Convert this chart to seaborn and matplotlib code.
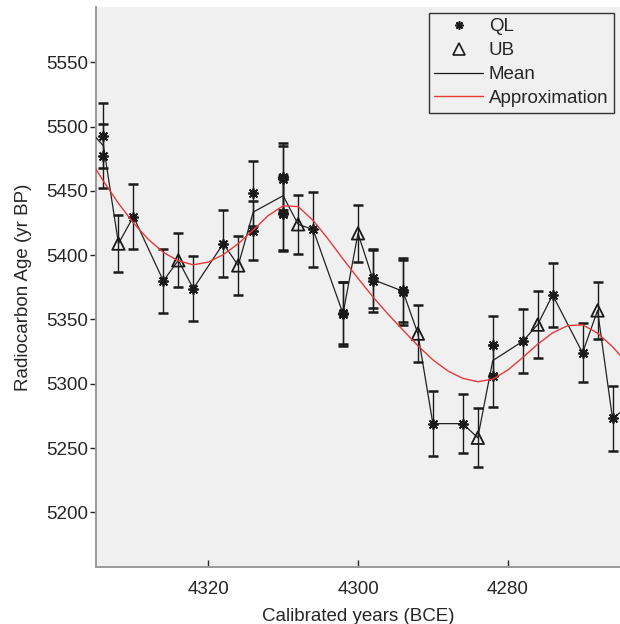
import matplotlib
matplotlib.use("Agg")
import matplotlib.pyplot as plt
from matplotlib.lines import Line2D
import seaborn as sns
import pandas as pd

# QL dates (asterisks); first and last entries sit just outside the view
ql_years = [4336, 4334, 4334, 4330, 4326, 4322, 4318, 4314, 4314, 4310, 4310, 4310, 4310,
            4306, 4302, 4302, 4298, 4298, 4294, 4294, 4290, 4286, 4282, 4282, 4278, 4274,
            4270, 4266, 4264]
ql_ages = [5498, 5493, 5477, 5430, 5380, 5374, 5409, 5448, 5419, 5461, 5459, 5433, 5432,
           5420, 5355, 5354, 5382, 5380, 5373, 5371, 5269, 5269, 5330, 5306, 5333, 5369,
           5324, 5273, 5282]
ql_errs = [25, 25, 25, 25, 25, 25, 26, 25, 23, 26, 26, 29, 29,
           29, 24, 25, 23, 24, 25, 25, 25, 23, 23, 24, 25, 25,
           23, 25, 25]

# UB dates (triangles)
ub_years = [4332, 4324, 4316, 4308, 4300, 4292, 4284, 4276, 4268]
ub_ages = [5409, 5396, 5392, 5424, 5417, 5339, 5258, 5346, 5357]
ub_errs = [22, 21, 23, 23, 22, 22, 23, 26, 22]

# red approximation curve, read off every 2 years
approx_years = [4336, 4334, 4332, 4330, 4328, 4326, 4324, 4322, 4320, 4318, 4316, 4314,
                4312, 4310, 4308, 4306, 4304, 4302, 4300, 4298, 4296, 4294, 4292, 4290,
                4288, 4286, 4284, 4282, 4280, 4278, 4276, 4274, 4272, 4270, 4268, 4266, 4264]
approx_ages = [5476, 5457.5, 5440.3, 5425.0, 5412.2, 5402.2, 5395.6, 5392.5, 5394.6,
               5400.4, 5408.9, 5419.6, 5430.8, 5438.4, 5437.8, 5427.0, 5412.6, 5397.0,
               5382.0, 5367.5, 5354.2, 5341.8, 5329.6, 5318.6, 5310.0, 5304.2, 5301.6,
               5303.6, 5310.6, 5320.4, 5330.8, 5339.6, 5345.2, 5345.8, 5339.4, 5328.8,
               5315.8]

ql = pd.DataFrame({"year": ql_years, "age": ql_ages, "err": ql_errs})
ub = pd.DataFrame({"year": ub_years, "age": ub_ages, "err": ub_errs})
both = pd.concat([ql, ub], ignore_index=True)
approx = pd.DataFrame({"year": approx_years, "age": approx_ages})

sns.set_theme(style="ticks")
plt.rcParams["font.family"] = ["Liberation Sans", "DejaVu Sans"]
fs = 13.5

ink = "#1a1a1a"
fig = plt.figure(figsize=(6.2, 6.24), dpi=100)
ax = fig.add_axes([96 / 620, 1 - 567 / 624, 524 / 620, 560 / 624])
ax.set_facecolor("#f0f0f0")

for d in (ql, ub):
    ax.errorbar(d["year"], d["age"], yerr=d["err"], fmt="none", ecolor=ink,
                elinewidth=1.0, capsize=3.8, capthick=1.8, zorder=2)

sns.lineplot(data=both, x="year", y="age", estimator="mean", errorbar=None,
             color="#222222", linewidth=0.9, ax=ax, zorder=3)
sns.scatterplot(data=ql, x="year", y="age", marker=(8, 2, 0), s=45, color=ink,
                linewidth=1.3, ax=ax, zorder=4)
sns.scatterplot(data=ub, x="year", y="age", marker="^", s=80, facecolor="none",
                edgecolor=ink, linewidth=1.3, ax=ax, zorder=4)
sns.lineplot(data=approx, x="year", y="age", color="#e8393b", linewidth=1.0,
             ax=ax, zorder=5)

ax.set_xlim(4335, 4265)
ax.set_ylim(5157.5, 5593)
ax.set_xticks([4320, 4300, 4280])
ax.set_yticks(range(5200, 5551, 50))
ax.set_xlabel("Calibrated years (BCE)", fontsize=fs, color="#262626", labelpad=7)
ax.set_ylabel("Radiocarbon Age (yr BP)", fontsize=fs, color="#262626", labelpad=10)
ax.tick_params(axis="x", direction="in", length=5, width=1, pad=10,
               colors="#262626", labelsize=fs)
ax.tick_params(axis="y", direction="out", length=4.3, width=1, pad=1.2,
               colors="#262626", labelsize=fs)
for s in ("top", "right"):
    ax.spines[s].set_visible(False)
for s in ("left", "bottom"):
    ax.spines[s].set_color("#999999")
    ax.spines[s].set_linewidth(1.4)

handles = [
    Line2D([], [], linestyle="none", marker=(8, 2, 0), markersize=6,
           markeredgewidth=1.2, color=ink),
    Line2D([], [], linestyle="none", marker="^", markersize=8, markerfacecolor="none",
           markeredgecolor=ink, markeredgewidth=1.2),
    Line2D([], [], color=ink, linewidth=0.9),
    Line2D([], [], color="#e8393b", linewidth=1.0),
]
leg = ax.legend(handles, ["QL", "UB", "Mean", "Approximation"], loc="upper right",
                bbox_to_anchor=(0.9885, 0.99), borderaxespad=0, fontsize=fs,
                frameon=True, fancybox=False, framealpha=1, facecolor="#f0f0f0",
                edgecolor="#333333", handlelength=2.6, handletextpad=0.3,
                labelspacing=0.36, borderpad=0.3)
leg.get_frame().set_linewidth(1.0)

fig.savefig("out.png", dpi=100)
